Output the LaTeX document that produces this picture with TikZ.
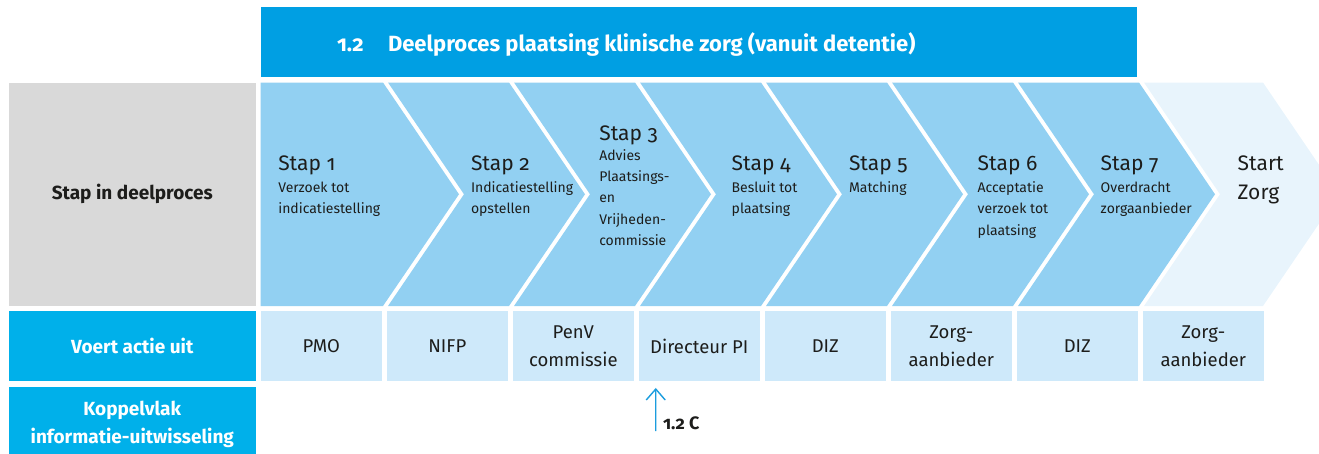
\documentclass[tikz,border=0pt]{standalone}
\usepackage{fontspec}
\setmainfont{Fira Sans}[Numbers=OldStyle]
\usetikzlibrary{arrows.meta}
\definecolor{chev}{RGB}{146,208,242}
\definecolor{chevlight}{RGB}{232,244,252}
\definecolor{cellblue}{RGB}{206,233,250}
\definecolor{titleblue}{RGB}{0,159,227}
\definecolor{labelblue}{RGB}{0,176,234}
\definecolor{greybox}{RGB}{217,217,217}
\definecolor{ink}{RGB}{29,29,27}
\definecolor{arrowblue}{RGB}{27,157,222}
\newcommand\mylines[2][21.2pt]{\vtop{\baselineskip=#1\relax\lineskip=0pt\halign{##\hfil\cr#2\crcr}}}
\begin{document}
\begin{tikzpicture}[x=1pt,y=-1pt,
  every node/.style={inner sep=0pt, outer sep=0pt},
  cellbox/.style={fill=cellblue, minimum width=121.5pt, minimum height=70.5pt, align=center, text=ink, font=\fontsize{18.5}{28}\selectfont},
  labbox/.style={fill=labelblue, minimum width=246.5pt, text=white, align=center, font=\bfseries\fontsize{19}{27.7}\selectfont},
  stephead/.style={anchor=base west, text=ink, font=\fontsize{21}{25}\selectfont},
  stepdesc/.style={anchor=base west, text=ink, font=\fontsize{14}{21}\selectfont},
  flow/.style={draw=arrowblue, line width=1.4pt, -{Straight Barb[length=11pt,width=19pt,line width=1.4pt]}},
]
\useasboundingbox (0,0) rectangle (1319,453);
\clip (0,0) rectangle (1319,453);

% title bar
\node[fill=titleblue, minimum width=876.5pt, minimum height=70.5pt] (titlebar) at (698.75,42) {};
\node[anchor=base west, text=white, font=\bfseries\fontsize{22}{26}\selectfont] (titlenum) at (337,51) {1.2};
\node[anchor=base west, text=white, font=\bfseries\fontsize{22}{26}\selectfont] (titletext) at (388,51) {Deelproces plaatsing klinische zorg (vanuit detentie)};

% left labels
\node[fill=greybox, minimum width=246.5pt, minimum height=223.5pt, text=ink, font=\bfseries\fontsize{19}{23}\selectfont] (stapin) at (132.3,194.3) {Stap in deelproces};
\node[labbox, minimum height=70.5pt] (voert) at (132.3,346.2) {Voert actie uit};
\node[labbox, minimum height=76pt] (koppel) at (132.3,424.5) {Koppelvlak\\informatie-uitwisseling};

% chevrons
\fill[chev] (260.7,82.5) -- (383,82.5) -- (459,194.25) -- (383,306) -- (260.7,306) -- cycle;
\foreach \i in {1,...,6} {
  \pgfmathsetmacro\L{262+126*\i}
  \pgfmathsetmacro\R{383+126*\i}
  \fill[chev] (\L,82.5) -- (\R,82.5) -- (\R+76,194.25) -- (\R,306) -- (\L,306) -- (\L+76,194.25) -- cycle;
}
\fill[chevlight] (1144,82.5) -- (1263,82.5) -- (1339,194.25) -- (1263,306) -- (1144,306) -- (1220,194.25) -- cycle;

% step texts
\node[stephead] (h1) at (278.3,170.7) {Stap 1};
\node[stepdesc] (d1) at (278.3,192.7) {\mylines{Verzoek tot\cr indicatiestelling}};
\node[stephead] (h2) at (471,170.7) {Stap 2};
\node[stepdesc] (d2) at (471,192.7) {\mylines{Indicatiestelling\cr opstellen}};
\node[stephead] (h3) at (599.3,140.7) {Stap 3};
\node[stepdesc] (d3) at (599.3,160.5) {\mylines{Advies\cr Plaatsings-\cr en\cr Vrijheden-\cr commissie}};
\node[stephead] (h4) at (731.7,170.7) {Stap 4};
\node[stepdesc] (d4) at (731.7,192.7) {\mylines{Besluit tot\cr plaatsing}};
\node[stephead] (h5) at (849,170.7) {Stap 5};
\node[stepdesc] (d5) at (849,192.7) {\mylines{Matching}};
\node[stephead] (h6) at (977.7,170.7) {Stap 6};
\node[stepdesc] (d6) at (977.7,192.7) {\mylines{Acceptatie\cr verzoek tot\cr plaatsing}};
\node[stephead] (h7) at (1100.7,170.7) {Stap 7};
\node[stepdesc] (d7) at (1100.7,192.7) {\mylines{Overdracht\cr zorgaanbieder}};
\node[stephead] (sz) at (1237.7,170.7) {\mylines[28.6pt]{Start\cr Zorg}};

% actor cells
\node[cellbox] (c1) at (321.3,346.2) {PMO};
\node[cellbox] (c2) at (447.3,346.2) {NIFP};
\node[cellbox] (c3) at (573.3,346.2) {PenV\\commissie};
\node[cellbox] (c4) at (699.3,346.2) {Directeur PI};
\node[cellbox] (c5) at (825.3,346.2) {DIZ};
\node[cellbox] (c6) at (951.3,346.2) {Zorg-\\aanbieder};
\node[cellbox] (c7) at (1077.3,346.2) {DIZ};
\node[cellbox] (c8) at (1203.3,346.2) {Zorg-\\aanbieder};

% interface arrow
\coordinate (atail) at (655.7,431);
\draw[flow] (atail) -- ([xshift=17.2pt,yshift=-6.5pt]c4.south west);
\node[anchor=base west, text=ink, font=\bfseries\fontsize{18}{21}\selectfont] (alabel) at (663,429.5) {1.2 C};
\end{tikzpicture}
\end{document}
